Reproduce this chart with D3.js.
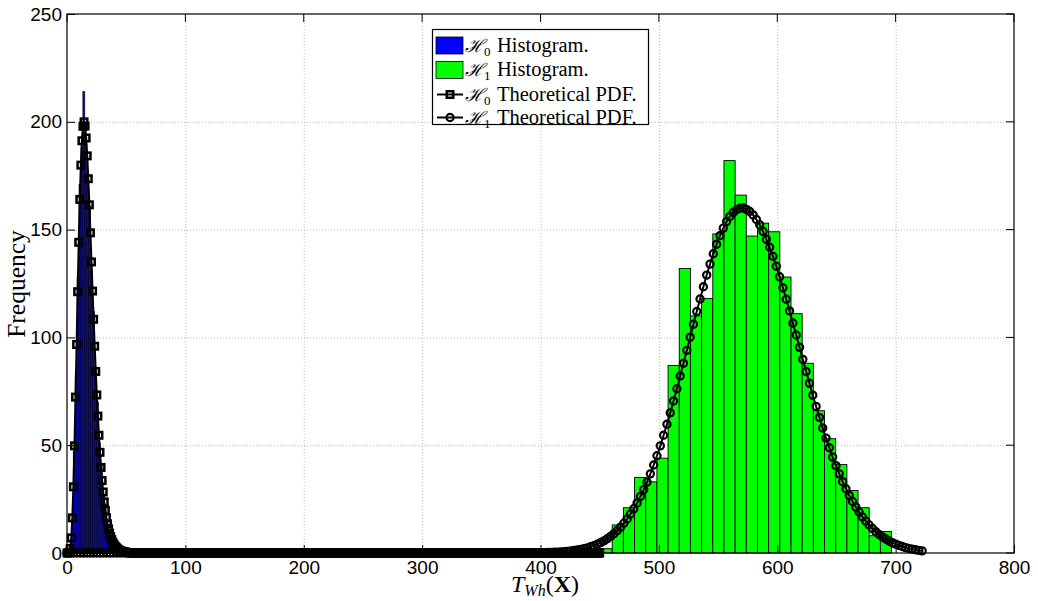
<!DOCTYPE html>
<html>
<head>
<meta charset="utf-8">
<script src="https://cdn.jsdelivr.net/npm/d3@7"></script>
<style>
  body { margin: 0; background: #fff; }
  svg { display: block; }
</style>
</head>
<body>
<svg id="chart" width="1038" height="601"></svg>
<script>
// ---- data ----
const xTicks = [0, 100, 200, 300, 400, 500, 600, 700, 800];
const yTicks = [0, 50, 100, 150, 200, 250];

// H0 histogram: 27 bins
const h0BinStart = 2.0;
const h0BinWidth = 1.63;
const h0Counts = [3, 14, 47, 83, 128, 171, 188, 214, 192, 176, 161, 131, 112, 85,
                  70, 51, 41, 27, 22, 14, 11, 7, 5, 4, 2, 2, 1];

// H1 histogram: 27 bins
const h1BinStart = 441.7;
const h1BinWidth = 9.44;
const h1Counts = [2, 2, 13, 21, 35, 33, 44, 87, 132, 110, 118, 148, 182, 166,
                  147, 153, 149, 128, 111, 88, 66, 53, 41, 29, 21, 8, 10];

// H0 theoretical PDF, sampled every h0PdfStep from 0 up to 450
const h0PdfStep = 0.9;
const h0Pdf = [0, 0, 0.35, 2.1, 7.0, 16.3, 30.7, 49.7, 72.3, 96.7, 121.2, 144.1, 164.0,
               179.9, 191.2, 197.9, 200.0, 198.0, 192.5, 184.2, 173.6, 161.5, 148.5, 135.0,
               121.5, 108.4, 95.9, 84.2, 73.3, 63.5, 54.6, 46.7, 39.7, 33.6, 28.3, 23.7,
               19.8, 16.4, 13.6, 11.2, 9.2, 7.6, 6.2, 5.0, 4.1, 3.3, 2.7, 2.2, 1.7, 1.4, 1.1,
               0.9, 0.7, 0.6, 0.5, 0.4, 0.3, 0.2, 0.2, 0.1, 0.1, 0.1, 0, 0, 0, 0, 0, 0,
  0,0,0,0,0,0,0,0,0,0,0,0,0,0,0,0,0,0,0,0, 0,0,0,0,0,0,0,0,0,0,0,0,0,0,0,0,0,0,0,0,
  0,0,0,0,0,0,0,0,0,0,0,0,0,0,0,0,0,0,0,0, 0,0,0,0,0,0,0,0,0,0,0,0,0,0,0,0,0,0,0,0,
  0,0,0,0,0,0,0,0,0,0,0,0,0,0,0,0,0,0,0,0, 0,0,0,0,0,0,0,0,0,0,0,0,0,0,0,0,0,0,0,0,
  0,0,0,0,0,0,0,0,0,0,0,0,0,0,0,0,0,0,0,0, 0,0,0,0,0,0,0,0,0,0,0,0,0,0,0,0,0,0,0,0,
  0,0,0,0,0,0,0,0,0,0,0,0,0,0,0,0,0,0,0,0, 0,0,0,0,0,0,0,0,0,0,0,0,0,0,0,0,0,0,0,0,
  0,0,0,0,0,0,0,0,0,0,0,0,0,0,0,0,0,0,0,0, 0,0,0,0,0,0,0,0,0,0,0,0,0,0,0,0,0,0,0,0,
  0,0,0,0,0,0,0,0,0,0,0,0,0,0,0,0,0,0,0,0, 0,0,0,0,0,0,0,0,0,0,0,0,0,0,0,0,0,0,0,0,
  0,0,0,0,0,0,0,0,0,0,0,0,0,0,0,0,0,0,0,0, 0,0,0,0,0,0,0,0,0,0,0,0,0,0,0,0,0,0,0,0,
  0,0,0,0,0,0,0,0,0,0,0,0,0,0,0,0,0,0,0,0, 0,0,0,0,0,0,0,0,0,0,0,0,0,0,0,0,0,0,0,0,
  0,0,0,0,0,0,0,0,0,0,0,0,0,0,0,0,0,0,0,0, 0,0,0,0,0,0,0,0,0,0,0,0,0,0,0,0,0,0,0,0,
  0,0,0,0,0,0,0,0,0,0,0,0,0,0,0,0,0,0,0,0, 0,0,0,0,0,0,0,0,0,0,0,0,0
];

// H1 theoretical PDF, sampled every h1PdfStep from 0
const h1PdfStep = 2.8;
const h1Pdf = [
  0,0,0,0,0,0,0,0,0,0,0, 0,0,0,0,0,0,0,0,0,0,0, 0,0,0,0,0,0,0,0,0,0,0,
  0,0,0,0,0,0,0,0,0,0,0, 0,0,0,0,0,0,0,0,0,0,0, 0,0,0,0,0,0,0,0,0,0,0,
  0,0,0,0,0,0,0,0,0,0,0, 0,0,0,0,0,0,0,0,0,0,0, 0,0,0,0,0,0,0,0,0,0,0,
  0,0,0,0,0,0,0,0,0,0,0, 0,0,0,0,0,0,0,0,0,0,0, 0,0,0,0,0,0,0,0,0,0,0,
  0,0,0,0,0,0,0,0,0,0,0,
  0.13, 0.17, 0.21, 0.26, 0.33, 0.40, 0.50, 0.62, 0.76, 0.93,
  1.13, 1.37, 1.66, 2.00, 2.40, 2.87, 3.42, 4.06, 4.79, 5.64,
  6.61, 7.72, 8.98, 10.4, 12.0, 13.8, 15.8, 18.1, 20.5, 23.2,
  26.2, 29.4, 32.9, 36.7, 40.8, 45.1, 49.7, 54.6, 59.7, 65.0,
  70.5, 76.2, 82.1, 88.0, 94.0, 100.1, 106.1, 112.0, 117.8, 123.5,
  128.9, 134.0, 138.8, 143.2, 147.2, 150.7, 153.7, 156.1, 158.0, 159.2, 159.9,
  160.0, 159.4, 158.4, 156.8, 154.7, 152.2, 149.1, 145.5, 141.8, 137.6,
  133.0, 128.1, 123.0, 117.7, 112.3, 106.7, 101.1, 95.4, 89.8, 84.2,
  78.7, 73.2, 68.0, 62.9, 58.0, 53.3, 48.8, 44.5, 40.5, 36.7,
  33.1, 29.8, 26.7, 23.9, 21.3, 18.9, 16.7, 14.8, 13.0, 11.4,
  9.9, 8.6, 7.5, 6.5, 5.6, 4.8, 4.1, 3.5, 3.0, 2.5,
  2.1, 1.8, 1.5, 1.2, 1.0
];

const legendEntries = [
  { sub: "0", text: "Histogram.", kind: "patch", color: "#0000ff" },
  { sub: "1", text: "Histogram.", kind: "patch", color: "#00ff00" },
  { sub: "0", text: "Theoretical PDF.", kind: "square" },
  { sub: "1", text: "Theoretical PDF.", kind: "circle" }
];

// ---- layout ----
const svg = d3.select("#chart");
const plot = { left: 67, top: 14, right: 1014, bottom: 553 };
const x = d3.scaleLinear().domain([0, 800]).range([plot.left, plot.right]);
const y = d3.scaleLinear().domain([0, 250]).range([plot.bottom, plot.top]);

const tickFont = "'Liberation Sans', Arial, Helvetica, sans-serif";
const serif = "'Liberation Serif', 'Times New Roman', serif";

const circleR = 3.6, circleW = 2.2;
const squareS = 6.5, squareW = 2.5;

// white axes background
svg.append("rect").attr("x", plot.left).attr("y", plot.top)
  .attr("width", plot.right - plot.left).attr("height", plot.bottom - plot.top)
  .attr("fill", "#fff");

// dotted grid
const grid = svg.append("g").attr("stroke", "#b8b8b8").attr("stroke-width", 1)
  .attr("stroke-dasharray", "1,2");
grid.selectAll("line.gx").data(xTicks.slice(1, -1)).join("line")
  .attr("x1", d => x(d) + 0.5).attr("x2", d => x(d) + 0.5)
  .attr("y1", plot.top).attr("y2", plot.bottom);
grid.selectAll("line.gy").data(yTicks.slice(1, -1)).join("line")
  .attr("y1", d => y(d) + 0.5).attr("y2", d => y(d) + 0.5)
  .attr("x1", plot.left).attr("x2", plot.right);

// histograms
function drawHist(counts, start, width, fill, sw) {
  svg.append("g").selectAll("rect").data(counts).join("rect")
    .attr("x", (d, i) => x(start + i * width))
    .attr("width", (d, i) => x(start + (i + 1) * width) - x(start + i * width))
    .attr("y", d => y(d))
    .attr("height", d => y(0) - y(d))
    .attr("fill", fill)
    .attr("stroke", "#000")
    .attr("stroke-width", sw);
}
drawHist(h0Counts, h0BinStart, h0BinWidth, "#0000ff", 0.6);
drawHist(h1Counts, h1BinStart, h1BinWidth, "#00ff00", 0.9);

// theoretical PDF curves with markers
function pdfPoints(vals, step) {
  return vals.map((v, i) => [i * step, v]);
}
const line = d3.line().x(d => x(d[0])).y(d => y(d[1]));

const h1Pts = pdfPoints(h1Pdf, h1PdfStep);
const h0Pts = pdfPoints(h0Pdf, h0PdfStep);

const g0 = svg.append("g");
g0.append("path").datum(h0Pts).attr("d", line)
  .attr("fill", "none").attr("stroke", "#000").attr("stroke-width", 2);
g0.selectAll("rect").data(h0Pts).join("rect")
  .attr("x", d => x(d[0]) - squareS / 2).attr("y", d => y(d[1]) - squareS / 2)
  .attr("width", squareS).attr("height", squareS)
  .attr("fill", "none").attr("stroke", "#000").attr("stroke-width", squareW);

const g1 = svg.append("g");
g1.append("path").datum(h1Pts).attr("d", line)
  .attr("fill", "none").attr("stroke", "#000").attr("stroke-width", 2);
g1.selectAll("circle").data(h1Pts).join("circle")
  .attr("cx", d => x(d[0])).attr("cy", d => y(d[1])).attr("r", circleR)
  .attr("fill", "none").attr("stroke", "#000").attr("stroke-width", circleW);

// axes
const xAxis = d3.axisBottom(x).tickValues(xTicks).tickSizeInner(-8).tickSizeOuter(0).tickPadding(8);
const yAxis = d3.axisLeft(y).tickValues(yTicks).tickSizeInner(-8).tickSizeOuter(0).tickPadding(5);

const gx = svg.append("g").attr("transform", `translate(0,${plot.bottom})`).call(xAxis);
const gy = svg.append("g").attr("transform", `translate(${plot.left},0)`).call(yAxis);
[gx, gy].forEach(g => {
  g.select(".domain").remove();
  g.selectAll("text").attr("font-family", tickFont).attr("font-size", 19).attr("fill", "#000");
  g.selectAll("line").attr("stroke", "#000");
});
// mirrored ticks on top and right
svg.append("g").selectAll("line").data(xTicks).join("line")
  .attr("x1", d => x(d)).attr("x2", d => x(d))
  .attr("y1", plot.top).attr("y2", plot.top + 8).attr("stroke", "#000");
svg.append("g").selectAll("line").data(yTicks).join("line")
  .attr("y1", d => y(d)).attr("y2", d => y(d))
  .attr("x1", plot.right).attr("x2", plot.right - 8).attr("stroke", "#000");

// frame
svg.append("rect").attr("x", plot.left).attr("y", plot.top)
  .attr("width", plot.right - plot.left).attr("height", plot.bottom - plot.top)
  .attr("fill", "none").attr("stroke", "#000").attr("stroke-width", 1.2);

// axis labels
const xl = svg.append("text").attr("x", 545).attr("y", 592)
  .attr("text-anchor", "middle").attr("font-family", serif).attr("font-size", 24).attr("fill", "#000");
xl.append("tspan").attr("font-style", "italic").text("T");
xl.append("tspan").attr("font-style", "italic").attr("font-size", 16).attr("dy", 4).text("Wh");
xl.append("tspan").attr("dy", -4).text("(");
xl.append("tspan").attr("font-weight", "bold").text("X");
xl.append("tspan").text(")");

svg.append("text")
  .attr("transform", "translate(25,284) rotate(-90)")
  .attr("text-anchor", "middle").attr("font-family", serif).attr("font-size", 25.5)
  .attr("fill", "#000").text("Frequency");

// legend
const lg = svg.append("g");
lg.append("rect").attr("x", 432.5).attr("y", 29.5).attr("width", 216).attr("height", 95)
  .attr("fill", "#fff").attr("stroke", "#000").attr("stroke-width", 1.2);
const rowY = [45.5, 70, 94.5, 117.5];
legendEntries.forEach((e, i) => {
  const cy = rowY[i];
  if (e.kind === "patch") {
    lg.append("rect").attr("x", 436).attr("y", cy - 8.5).attr("width", 27).attr("height", 17)
      .attr("fill", e.color).attr("stroke", "#000").attr("stroke-width", 0.8);
  } else {
    lg.append("line").attr("x1", 437).attr("x2", 463).attr("y1", cy).attr("y2", cy)
      .attr("stroke", "#000").attr("stroke-width", 2);
    if (e.kind === "square") {
      lg.append("rect").attr("x", 450 - squareS / 2).attr("y", cy - squareS / 2)
        .attr("width", squareS).attr("height", squareS)
        .attr("fill", "none").attr("stroke", "#000").attr("stroke-width", squareW);
    } else {
      lg.append("circle").attr("cx", 450).attr("cy", cy).attr("r", circleR)
        .attr("fill", "none").attr("stroke", "#000").attr("stroke-width", circleW);
    }
  }
  const sym = lg.append("text").attr("x", 465).attr("y", cy + 6)
    .attr("font-family", "'DejaVu Serif', serif").attr("font-style", "italic")
    .attr("font-size", 18).attr("fill", "#000");
  sym.append("tspan").text("\u210B");
  sym.append("tspan").attr("font-style", "normal").attr("font-family", serif)
    .attr("font-size", 13).attr("dy", 4).text(e.sub);
  lg.append("text").attr("x", 497).attr("y", cy + 6)
    .attr("font-family", serif).attr("font-size", 20.5).attr("fill", "#000")
    .text(e.text);
});
</script>
</body>
</html>
